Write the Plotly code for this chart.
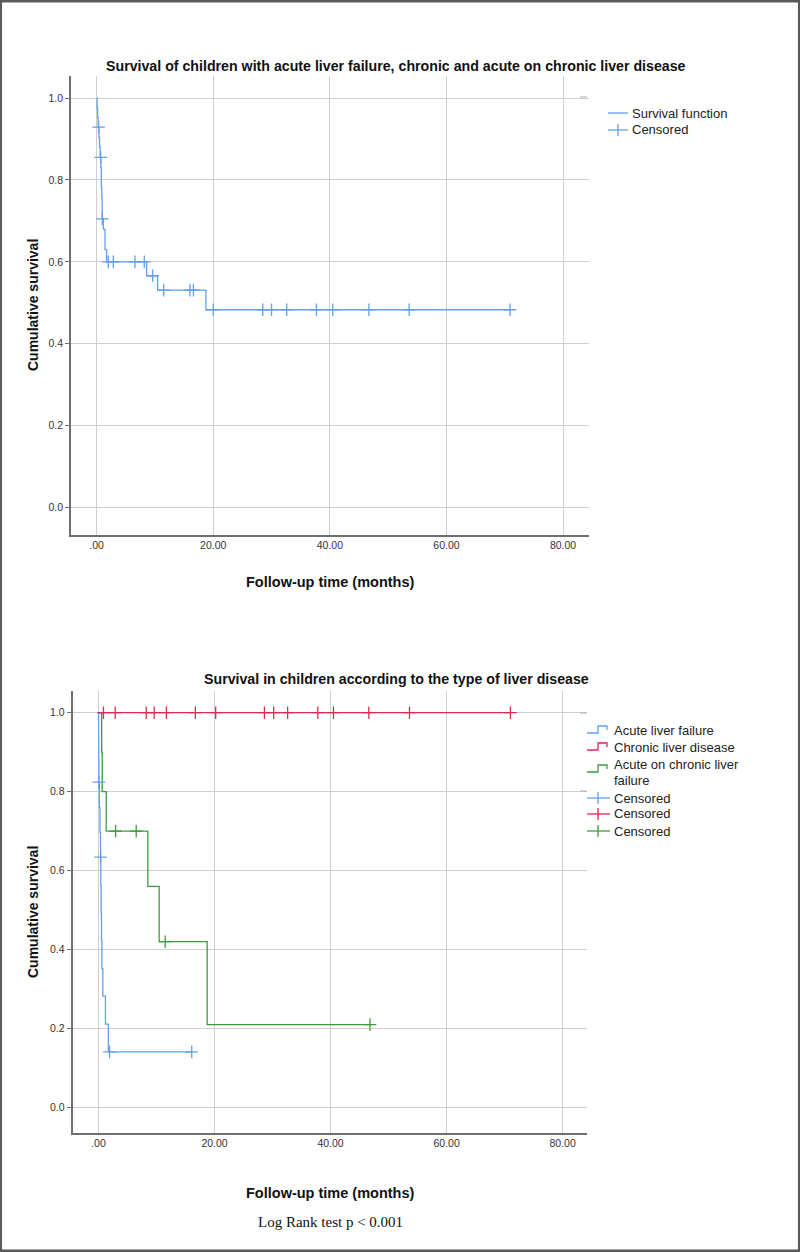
import plotly.graph_objects as go

W, H = 800, 1252

# ---------------- data: top chart (all children) ----------------
all_time = [0, 0.08, 0.17, 0.26, 0.40, 0.50, 0.60, 0.72, 0.80, 0.88, 0.95, 1.14, 1.43, 1.71, 8.57, 10.46, 18.74, 70.9]
all_surv = [1.0, 0.976, 0.952, 0.929, 0.904, 0.880, 0.855, 0.830, 0.780, 0.755, 0.705, 0.680, 0.630, 0.600, 0.566, 0.531, 0.483, 0.483]
all_cens_time = [0.34, 0.69, 0.97, 2.0, 2.86, 6.57, 8.17, 9.6, 11.5, 16.0, 16.6, 20.0, 28.5, 30.0, 32.6, 37.7, 40.5, 46.7, 53.6, 70.9]
all_cens_surv = [0.929, 0.855, 0.705, 0.6, 0.6, 0.6, 0.6, 0.566, 0.531, 0.531, 0.531,
                 0.483, 0.483, 0.483, 0.483, 0.483, 0.483, 0.483, 0.483, 0.483]

# ---------------- data: bottom chart (by type) ----------------
alf_time = [0, 0.02, 0.04, 0.06, 0.15, 0.25, 0.35, 0.40, 0.46, 0.52, 0.58, 0.75, 1.20, 1.70, 16.07]
alf_surv = [1.0, 0.941, 0.882, 0.824, 0.760, 0.697, 0.634, 0.563, 0.493, 0.423, 0.352, 0.282, 0.211, 0.141, 0.141]
alf_cens_time = [0.06, 0.35, 1.9, 16.07]
alf_cens_surv = [0.824, 0.634, 0.141, 0.141]

cld_time = [0, 71.0]
cld_surv = [1.0, 1.0]
cld_cens_time = [0.86, 2.88, 8.23, 9.6, 11.7, 16.7, 20.2, 28.6, 30.2, 32.6, 37.8, 40.5, 46.6, 53.6, 71.0]
cld_cens_surv = [1.0] * 15

aclf_time = [0, 0.55, 0.64, 1.33, 8.5, 10.46, 18.73, 46.8]
aclf_surv = [1.0, 0.9, 0.8, 0.7, 0.56, 0.42, 0.21, 0.21]
aclf_cens_time = [2.95, 6.5, 11.5, 46.8]
aclf_cens_surv = [0.7, 0.7, 0.42, 0.21]

x_ticks = [0, 20, 40, 60, 80]
x_tick_labels = [".00", "20.00", "40.00", "60.00", "80.00"]
y_ticks = [0, 0.2, 0.4, 0.6, 0.8, 1.0]
y_tick_labels = ["0.0", "0.2", "0.4", "0.6", "0.8", "1.0"]

BLUE = "#64a0e8"
RED = "#dc2a52"
GREEN = "#3f9a3f"
GRID = "#cfcfcf"
AXIS = "#707070"
SANS = "Liberation Sans, Arial, sans-serif"

fig = go.Figure()


def km(x, y, color, xa, ya):
    fig.add_trace(go.Scatter(x=x, y=y, mode="lines", line=dict(color=color, width=1.3, shape="hv"),
                             xaxis=xa, yaxis=ya, showlegend=False, hoverinfo="skip"))


def cens(x, y, color, xa, ya):
    fig.add_trace(go.Scatter(x=x, y=y, mode="markers",
                             marker=dict(symbol="cross-thin-open", size=9, color=color,
                                         line=dict(color=color, width=1.3)),
                             xaxis=xa, yaxis=ya, showlegend=False, hoverinfo="skip"))


km(all_time, all_surv, BLUE, "x", "y")
cens(all_cens_time, all_cens_surv, BLUE, "x", "y")

km(alf_time, alf_surv, BLUE, "x2", "y2")
km(aclf_time, aclf_surv, GREEN, "x2", "y2")
km(cld_time, cld_surv, RED, "x2", "y2")
cens(alf_cens_time, alf_cens_surv, BLUE, "x2", "y2")
cens(aclf_cens_time, aclf_cens_surv, GREEN, "x2", "y2")
cens(cld_cens_time, cld_cens_surv, RED, "x2", "y2")


def px(x):
    return x / W


def py(y):
    return 1 - y / H


xcommon = dict(tickvals=x_ticks, ticktext=x_tick_labels, showgrid=True, gridcolor=GRID, gridwidth=1,
               zeroline=False, showline=True, linecolor=AXIS, linewidth=1.6, ticks="",
               tickfont=dict(family=SANS, size=10.5, color="#333"), fixedrange=True)
ycommon = dict(tickvals=y_ticks, ticktext=y_tick_labels, showgrid=True, gridcolor=GRID, gridwidth=1,
               zeroline=False, showline=True, linecolor=AXIS, linewidth=1.6, ticks="outside", ticklen=4,
               tickcolor=AXIS, tickfont=dict(family=SANS, size=10.5, color="#333"), fixedrange=True)

fig.update_layout(
    width=W, height=H, margin=dict(l=0, r=0, t=0, b=0),
    paper_bgcolor="white", plot_bgcolor="white", showlegend=False,
    xaxis=dict(domain=[px(71), px(589)], range=[-4.4, 84.45], anchor="y", **xcommon),
    yaxis=dict(domain=[py(534.5), py(76)], range=[-0.066, 1.054], anchor="x", **ycommon),
    xaxis2=dict(domain=[px(72.5), px(587)], range=[-4.48, 84.2], anchor="y2", **xcommon),
    yaxis2=dict(domain=[py(1133), py(691)], range=[-0.0646, 1.055], anchor="x2", **ycommon),
)

ann = []


def text(x, y, s, size, bold=False, family=SANS, anchor="center", angle=0, color="#111"):
    ann.append(dict(x=px(x), y=py(y), xref="paper", yref="paper", text=("<b>%s</b>" % s) if bold else s,
                    showarrow=False, xanchor=anchor, yanchor="middle", textangle=angle,
                    font=dict(family=family, size=size, color=color)))


# titles
text(396, 66, "Survival of children with acute liver failure, chronic and acute on chronic liver disease", 14.2, True)
text(396, 679, "Survival in children according to the type of liver disease", 14.2, True)
# axis titles
text(33, 305, "Cumulative survival", 14, True, angle=-90)
text(33, 912, "Cumulative survival", 14, True, angle=-90)
text(330, 582, "Follow-up time (months)", 14.5, True)
text(330, 1193, "Follow-up time (months)", 14.5, True)
text(330, 1222, "Log Rank test p < 0.001", 15, False, family="Liberation Serif, Times New Roman, serif")

shapes = []


def seg(x0, y0, x1, y1, color, w=1.3):
    shapes.append(dict(type="line", xref="paper", yref="paper", x0=px(x0), y0=py(y0), x1=px(x1), y1=py(y1),
                       line=dict(color=color, width=w)))


def path(points, color, w=1.3):
    d = "M " + " L ".join("%f,%f" % (px(a), py(b)) for a, b in points)
    shapes.append(dict(type="path", xref="paper", yref="paper", path=d, line=dict(color=color, width=w)))


# top legend
seg(580, 97, 587, 97, "#b0b0b0", 1)
seg(608, 113, 628, 113, BLUE)
text(630, 113, "Survival function", 13, anchor="left", color="#222")
seg(608, 130, 628, 130, BLUE)
seg(618, 124, 618, 136, BLUE)
text(630, 130, "Censored", 13, anchor="left", color="#222")

# bottom legend
seg(580, 713, 587, 713, "#b0b0b0", 1)
seg(580, 791, 587, 791, "#b0b0b0", 1)
for yy, col in [(730, BLUE), (747, RED), (769, GREEN)]:
    path([(587, yy + 3), (598, yy + 3), (598, yy - 4), (607, yy - 4), (607, yy)], col)
text(612, 730, "Acute liver failure", 13, anchor="left", color="#222")
text(612, 747, "Chronic liver disease", 13, anchor="left", color="#222")
text(612, 764, "Acute on chronic liver", 13, anchor="left", color="#222")
text(612, 780, "failure", 13, anchor="left", color="#222")
for yy, col in [(798, BLUE), (814, RED), (831, GREEN)]:
    seg(587, yy, 610, yy, col)
    seg(598, yy - 6, 598, yy + 6, col)
    text(612, yy, "Censored", 13, anchor="left", color="#222")

# outer frame
shapes.append(dict(type="rect", xref="paper", yref="paper", x0=0.001, y0=0.001, x1=0.999, y1=0.999,
                   line=dict(color="#5a5a5a", width=2.5)))

fig.update_layout(annotations=ann, shapes=shapes)
fig.write_html("out.html", config={"displayModeBar": False},
               post_script="document.body.style.margin='0';document.body.style.overflow='hidden';")
